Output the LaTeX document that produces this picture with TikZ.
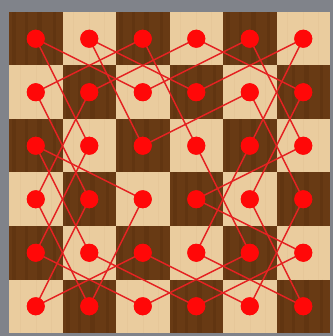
\documentclass[tikz,border=0pt]{standalone}
\definecolor{frame}{RGB}{128,131,138}
\definecolor{darkwood}{RGB}{104,58,20}
\definecolor{darkwoodb}{RGB}{84,44,12}
\definecolor{lightwood}{RGB}{234,204,158}
\definecolor{lightwoodb}{RGB}{224,192,145}
\definecolor{dotred}{RGB}{255,8,8}
\definecolor{linered}{RGB}{228,34,34}
\tikzset{
  sqdark/.style={fill=darkwood, draw=none},
  sqlight/.style={fill=lightwood, draw=none},
  dot/.style={circle, fill=dotred, draw=none, inner sep=0pt, minimum size=18pt},
  tourline/.style={draw=linered, line width=1.5pt}
}
\begin{document}
\begin{tikzpicture}[x=1pt,y=-1pt]
\useasboundingbox (0,0) rectangle (333,336);
\fill[frame] (0,0) rectangle (333,336);
% board squares
\foreach \c in {0,...,5}{
  \foreach \r in {0,...,5}{
    \pgfmathtruncatemacro{\parity}{mod(\c+\r,2)}
    \ifnum\parity=0
      \fill[sqdark] (9+53.5*\c,12+53.5*\r) rectangle ++(53.5,53.5);
      \foreach \g/\w in {5/4,17/3,30/5,45/3}{
        \draw[darkwoodb, line width=\w pt, opacity=0.35] (9+53.5*\c+\g,12+53.5*\r) -- ++(0,53.5);
      }
    \else
      \fill[sqlight] (9+53.5*\c,12+53.5*\r) rectangle ++(53.5,53.5);
      \foreach \g in {11,27,42}{
        \draw[lightwoodb, line width=1pt, opacity=0.35] (9+53.5*\c+\g,12+53.5*\r) -- ++(0,53.5);
      }
    \fi
  }
}
% nodes
\foreach \c in {0,...,5}{
  \foreach \r in {0,...,5}{
    \node[dot] (n\c\r) at (35.75+53.5*\c,38.75+53.5*\r) {};
  }
}
% closed knight's tour
\foreach \a/\b in {00/21,21/40,40/52,52/33,33/54,54/35,35/14,14/02,02/23,23/15,
                   15/03,03/11,11/30,30/51,51/43,43/55,55/34,34/42,42/50,50/31,
                   31/10,10/22,22/41,41/53,53/45,45/24,24/05,05/13,13/01,01/20,
                   20/32,32/44,44/25,25/04,04/12,12/00}{
  \draw[tourline] (n\a.center) -- (n\b.center);
}
% redraw dots on top
\foreach \c in {0,...,5}{
  \foreach \r in {0,...,5}{
    \fill[dotred] (n\c\r.center) circle (9pt);
  }
}
\end{tikzpicture}
\end{document}
